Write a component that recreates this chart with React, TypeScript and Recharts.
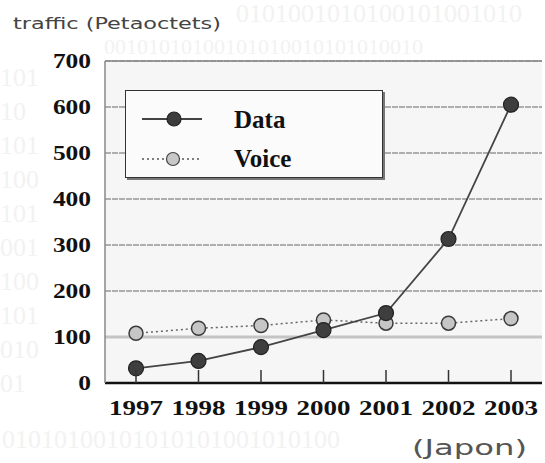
import React from 'react';
import {
  LineChart,
  Line,
  XAxis,
  YAxis,
  CartesianGrid,
  ReferenceLine,
  Legend,
} from 'recharts';

// traffic in petaoctets, Japan
const years = ['1997', '1998', '1999', '2000', '2001', '2002', '2003'];
const dataTraffic = [32, 48, 78, 115, 152, 313, 605];
const voiceTraffic = [108, 119, 125, 137, 130, 130, 140];
const yTicks = [0, 100, 200, 300, 400, 500, 600, 700];

const rows = years.map((year, i) => ({
  year,
  data: dataTraffic[i],
  voice: voiceTraffic[i],
}));

// faint binary pattern behind the chart (kept clear of the labels)
const binaryTop = '0101001010100101001010';
const binarySecond = '00101010100101010010101010010';
const binaryLeft = ['101', '10', '101', '100', '101', '001', '100', '101', '010', '01'];
const binaryBottom = '01010100101010101001010100';

const serif = '"Liberation Serif", "Times New Roman", serif';
const sans = '"DejaVu Sans", Verdana, sans-serif';
const faint = '#f2f2f2';

const YearTick = ({ x, y, payload }: any) => (
  <g>
    <line x1={x} x2={x} y1={y - 13} y2={y} stroke="#333" strokeWidth={1.5} />
    <text
      x={x}
      y={y + 32}
      textAnchor="middle"
      fontFamily={serif}
      fontWeight="bold"
      fontSize={21}
      textLength={54}
      lengthAdjust="spacingAndGlyphs"
      fill="#111"
    >
      {payload.value}
    </text>
  </g>
);

const ValueTick = ({ x, y, payload }: any) => {
  const label = String(payload.value);
  return (
    <text
      x={x}
      y={y + 7}
      textAnchor="end"
      fontFamily={serif}
      fontWeight="bold"
      fontSize={21}
      textLength={label.length * 12.7}
      lengthAdjust="spacingAndGlyphs"
      fill="#111"
    >
      {label}
    </text>
  );
};

const LegendBox = () => (
  <div
    style={{
      width: 258,
      height: 88,
      border: '1.5px solid #333',
      boxShadow: '2px 2px 0 #777',
      background: '#fbfbfb',
      boxSizing: 'border-box',
      position: 'relative',
    }}
  >
    <svg width={258} height={88} style={{ position: 'absolute', left: 0, top: 0 }}>
      <line x1={16} x2={76} y1={28} y2={28} stroke="#444" strokeWidth={2} />
      <circle cx={48} cy={28} r={7} fill="#3c3c3c" stroke="#222" strokeWidth={1.2} />
      <text x={108} y={37} fontFamily={serif} fontWeight="bold" fontSize={25} fill="#111">
        Data
      </text>
      <line x1={16} x2={76} y1={68} y2={68} stroke="#555" strokeWidth={1.5} strokeDasharray="2 3" />
      <circle cx={47} cy={68} r={6.5} fill="#c8c8c8" stroke="#444" strokeWidth={1.2} />
      <text x={108} y={76} fontFamily={serif} fontWeight="bold" fontSize={25} fill="#111">
        Voice
      </text>
    </svg>
  </div>
);

export default function App() {
  return (
    <div
      style={{
        position: 'absolute',
        left: 0,
        top: 0,
        width: 545,
        height: 463,
        background: '#fff',
        overflow: 'hidden',
      }}
    >
      <svg width={545} height={463} style={{ position: 'absolute', left: 0, top: 0 }}>
        <text x={236} y={22} fontFamily={serif} fontSize={26} fill={faint}>
          {binaryTop}
        </text>
        <text x={104} y={54} fontFamily={serif} fontSize={22} fill={faint}>
          {binarySecond}
        </text>
        {binaryLeft.map((bits, i) => (
          <text key={i} x={0} y={86 + i * 34} fontFamily={serif} fontSize={26} fill={faint}>
            {bits}
          </text>
        ))}
        <text x={2} y={448} fontFamily={serif} fontSize={26} fill={faint}>
          {binaryBottom}
        </text>
        <text
          x={13}
          y={29}
          fontFamily={sans}
          fontSize={16}
          textLength={208}
          lengthAdjust="spacingAndGlyphs"
          fill="#444"
        >
          traffic (Petaoctets)
        </text>
        <text
          x={412}
          y={455}
          fontFamily={sans}
          fontSize={22}
          textLength={115}
          lengthAdjust="spacingAndGlyphs"
          fill="#555"
        >
          (Japon)
        </text>
      </svg>
      <div style={{ position: 'absolute', left: 0, top: 0 }}>
        <LineChart
          width={545}
          height={463}
          data={rows}
          margin={{ top: 61, right: 3, bottom: 0, left: 0 }}
        >
          <CartesianGrid
            horizontal
            vertical={false}
            stroke="#666"
            strokeWidth={1.2}
            strokeDasharray="6 1"
            fill="#f6f6f6"
          />
          <ReferenceLine y={100} stroke="#c4c4c4" strokeWidth={3} />
          <ReferenceLine y={700} stroke="#888" strokeWidth={1.5} />
          <XAxis
            dataKey="year"
            height={80}
            padding={{ left: 31, right: 31 }}
            tickLine={false}
            tickSize={0}
            tickMargin={0}
            axisLine={{ stroke: '#111', strokeWidth: 2.5 }}
            tick={<YearTick />}
            interval={0}
          />
          <YAxis
            width={105}
            domain={[0, 700]}
            ticks={yTicks}
            tickLine={false}
            tickSize={0}
            tickMargin={14}
            axisLine={{ stroke: '#888', strokeWidth: 1.5 }}
            tick={<ValueTick />}
            interval={0}
          />
          <YAxis
            yAxisId="frame"
            orientation="right"
            width={0}
            domain={[0, 700]}
            tick={false}
            tickLine={false}
            axisLine={{ stroke: '#888', strokeWidth: 1.5 }}
          />
          <Legend
            layout="vertical"
            align="center"
            verticalAlign="middle"
            wrapperStyle={{ left: 125, top: 90, width: 258, height: 88 }}
            content={<LegendBox />}
          />
          <Line
            type="linear"
            dataKey="voice"
            name="Voice"
            stroke="#666"
            strokeWidth={1.5}
            strokeDasharray="2 3"
            dot={{ r: 7, fill: '#c6c6c6', stroke: '#3a3a3a', strokeWidth: 1.5, strokeDasharray: '' }}
            isAnimationActive={false}
          />
          <Line
            type="linear"
            dataKey="data"
            name="Data"
            stroke="#444"
            strokeWidth={1.8}
            dot={{ r: 7.5, fill: '#3e3e3e', stroke: '#222', strokeWidth: 1.2 }}
            isAnimationActive={false}
          />
        </LineChart>
      </div>
    </div>
  );
}
